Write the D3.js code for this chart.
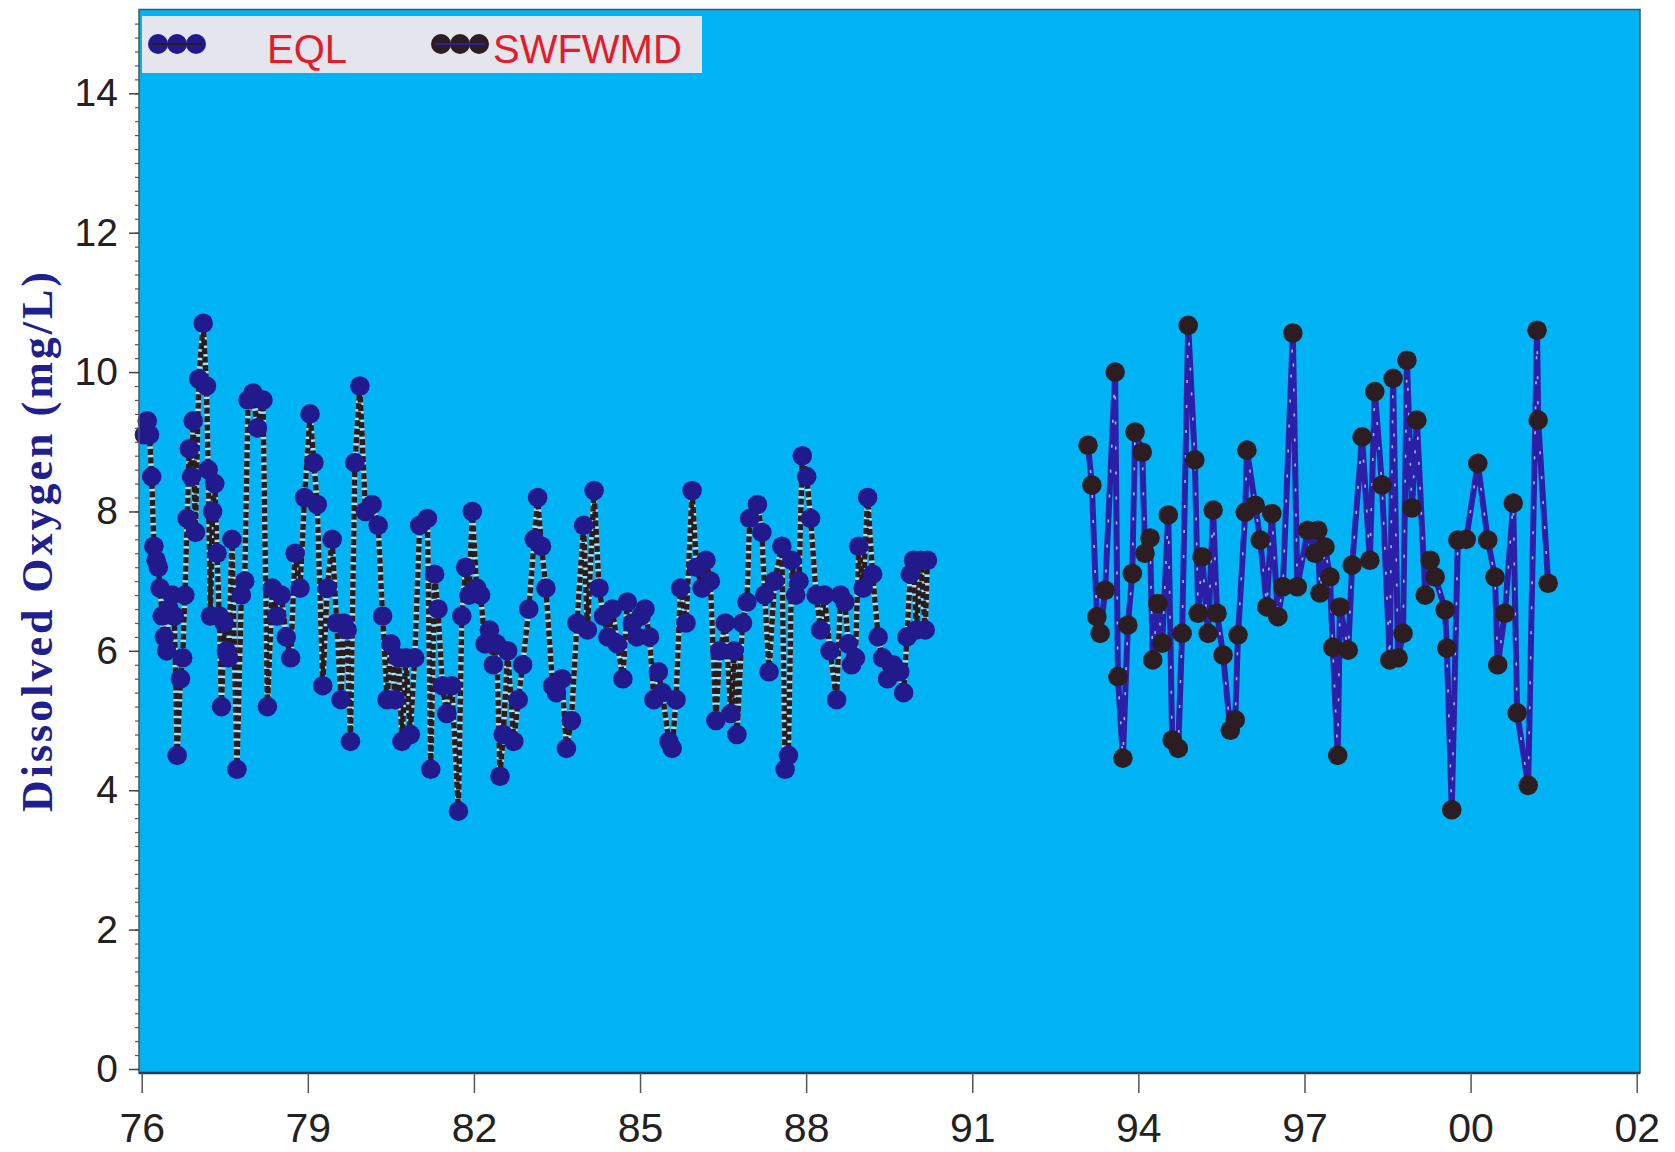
<!DOCTYPE html>
<html>
<head>
<meta charset="utf-8">
<script src="https://cdn.jsdelivr.net/npm/d3@7"></script>
<style>
  html, body { margin: 0; padding: 0; background: #ffffff; }
  svg { display: block; }
</style>
</head>
<body>
<svg id="chart" width="1675" height="1152"></svg>
<script>
// ---------------- DATA ----------------
const xTickYears  = [1976, 1979, 1982, 1985, 1988, 1991, 1994, 1997, 2000, 2003];
const xTickLabels = ["76", "79", "82", "85", "88", "91", "94", "97", "00", "02"];
const yTickValues = [0, 2, 4, 6, 8, 10, 12, 14];
const yAxisTitle  = "Dissolved Oxygen (mg/L)";
const seriesNames = ["EQL", "SWFWMD"];

const eqlYears = [
  1976.05,1976.10,1976.14,1976.18,1976.22,1976.26,1976.30,1976.33,1976.37,1976.41,
  1976.45,1976.49,1976.55,1976.59,1976.64,1976.70,1976.74,1976.78,1976.82,1976.86,
  1976.90,1976.93,1976.97,1977.03,1977.11,1977.17,1977.20,1977.24,1977.28,1977.32,
  1977.36,1977.40,1977.44,1977.49,1977.53,1977.57,1977.63,1977.72,1977.80,1977.86,
  1977.92,1978.01,1978.09,1978.19,1978.27,1978.36,1978.44,1978.52,1978.61,1978.69,
  1978.77,1978.86,1978.94,1979.04,1979.11,1979.17,1979.27,1979.35,1979.44,1979.52,
  1979.60,1979.65,1979.71,1979.77,1979.85,1979.94,1980.04,1980.16,1980.27,1980.35,
  1980.43,1980.50,1980.58,1980.64,1980.70,1980.77,1980.85,1980.93,1981.02,1981.16,
  1981.22,1981.29,1981.35,1981.43,1981.51,1981.60,1981.72,1981.78,1981.85,1981.91,
  1981.97,1982.05,1982.12,1982.20,1982.28,1982.35,1982.41,1982.47,1982.53,1982.61,
  1982.72,1982.80,1982.88,1982.99,1983.09,1983.15,1983.22,1983.30,1983.42,1983.49,
  1983.59,1983.67,1983.76,1983.86,1983.98,1984.05,1984.17,1984.26,1984.34,1984.42,
  1984.50,1984.59,1984.69,1984.77,1984.86,1984.94,1985.02,1985.09,1985.17,1985.25,
  1985.33,1985.40,1985.52,1985.58,1985.65,1985.73,1985.83,1985.94,1986.02,1986.12,
  1986.19,1986.27,1986.37,1986.44,1986.54,1986.64,1986.70,1986.75,1986.85,1986.93,
  1986.98,1987.12,1987.20,1987.25,1987.33,1987.43,1987.56,1987.62,1987.68,1987.74,
  1987.81,1987.87,1987.93,1988.01,1988.08,1988.18,1988.26,1988.33,1988.43,1988.55,
  1988.62,1988.70,1988.76,1988.82,1988.89,1988.95,1989.03,1989.11,1989.20,1989.30,
  1989.38,1989.47,1989.57,1989.69,1989.76,1989.82,1989.88,1989.94,1989.99,1990.07,
  1990.15,1990.19
];
const eqlDO = [
  9.1,9.3,9.1,8.5,7.5,7.3,7.2,6.9,6.5,6.2,
  6.0,6.6,6.8,6.5,4.5,5.6,5.9,6.8,7.9,8.9,
  8.5,9.3,7.7,9.9,10.7,9.8,8.6,6.5,8.0,8.4,
  7.4,6.5,5.2,6.4,6.0,5.9,7.6,4.3,6.8,7.0,
  9.6,9.7,9.2,9.6,5.2,6.9,6.5,6.8,6.2,5.9,
  7.4,6.9,8.2,9.4,8.7,8.1,5.5,6.9,7.6,6.4,
  5.3,6.4,6.3,4.7,8.7,9.8,8.0,8.1,7.8,6.5,
  5.3,6.1,5.3,5.9,4.7,5.9,4.8,5.9,7.8,7.9,
  4.3,7.1,6.6,5.5,5.1,5.5,3.7,6.5,7.2,6.8,
  8.0,6.9,6.8,6.1,6.3,5.8,6.1,4.2,4.8,6.0,
  4.7,5.3,5.8,6.6,7.6,8.2,7.5,6.9,5.5,5.4,
  5.6,4.6,5.0,6.4,7.8,6.3,8.3,6.9,6.5,6.2,
  6.6,6.1,5.6,6.7,6.4,6.2,6.5,6.6,6.2,5.3,
  5.7,5.4,4.7,4.6,5.3,6.9,6.4,8.3,7.2,6.9,
  7.3,7.0,5.0,6.0,6.4,5.1,6.0,4.8,6.4,6.7,
  7.9,8.1,7.7,6.8,5.7,7.0,7.5,4.3,4.5,7.3,
  6.8,7.0,8.8,8.5,7.9,6.8,6.3,6.8,6.0,5.3,
  6.8,6.7,6.1,5.8,5.9,7.5,6.9,8.2,7.1,6.2,
  5.9,5.6,5.8,5.7,5.4,6.2,7.1,7.3,6.3,7.3,
  6.3,7.3
];

const swfYears = [
  1993.09,1993.16,1993.25,1993.31,1993.40,1993.58,1993.63,1993.72,1993.81,1993.89,
  1993.94,1994.07,1994.12,1994.21,1994.26,1994.35,1994.43,1994.54,1994.61,1994.72,
  1994.79,1994.90,1995.02,1995.08,1995.15,1995.26,1995.35,1995.42,1995.53,1995.66,
  1995.75,1995.80,1995.93,1995.96,1996.11,1996.20,1996.32,1996.41,1996.52,1996.61,
  1996.79,1996.87,1997.06,1997.19,1997.24,1997.28,1997.37,1997.46,1997.51,1997.60,
  1997.64,1997.79,1997.86,1998.04,1998.18,1998.27,1998.40,1998.54,1998.60,1998.69,
  1998.78,1998.85,1998.94,1999.03,1999.18,1999.27,1999.36,1999.54,1999.57,1999.66,
  1999.77,1999.92,2000.13,2000.31,2000.44,2000.49,2000.62,2000.77,2000.84,2001.04,
  2001.20,2001.22,2001.40
];
const swfDO = [
  8.95,8.38,6.49,6.25,6.87,10.0,5.63,4.46,6.37,7.11,
  9.14,8.85,7.40,7.62,5.87,6.68,6.11,7.95,4.72,4.60,
  6.25,10.67,8.74,6.54,7.35,6.25,8.02,6.54,5.94,4.86,
  5.01,6.23,7.99,8.88,8.09,7.59,6.63,7.97,6.49,6.92,
  10.56,6.92,7.73,7.40,7.73,6.83,7.49,7.06,6.05,4.50,
  6.63,6.01,7.23,9.07,7.30,9.72,8.38,5.87,9.91,5.90,
  6.25,10.17,8.05,9.31,6.80,7.30,7.06,6.59,6.04,3.72,
  7.59,7.60,8.69,7.59,7.06,5.80,6.54,8.12,5.11,4.07,
  10.60,9.31,6.97
];

// ---------------- LAYOUT ----------------
const svg = d3.select("#chart");
const plot = { left: 139, right: 1640, top: 9.5, bottom: 1073 };

const x = d3.scaleLinear().domain([1976, 2003]).range([141.7, 1636.7]);
const y = d3.scaleLinear().domain([0, 14]).range([1069, 93.3]);

const eql = eqlYears.map((t, i) => ({ t, v: eqlDO[i] }));
const swf = swfYears.map((t, i) => ({ t, v: swfDO[i] }));

const FONT = "'Liberation Sans', Arial, Helvetica, sans-serif";

// Plot background
svg.append("rect")
  .attr("x", plot.left).attr("y", plot.top)
  .attr("width", plot.right - plot.left).attr("height", plot.bottom - plot.top)
  .attr("fill", "#00b3f5");

const line = d3.line().x(d => x(d.t)).y(d => y(d.v));

// EQL series: dark dotted line, navy markers
const gE = svg.append("g");
gE.append("path").datum(eql).attr("d", line)
  .attr("fill", "none").attr("stroke", "#9fe3ff").attr("stroke-width", 5.5)
  .attr("stroke-linejoin", "round");
gE.append("path").datum(eql).attr("d", line)
  .attr("fill", "none").attr("stroke", "#2a1c1c").attr("stroke-width", 5.5)
  .attr("stroke-dasharray", "6,2.5").attr("stroke-linejoin", "round");
gE.selectAll("circle").data(eql).join("circle")
  .attr("cx", d => x(d.t)).attr("cy", d => y(d.v)).attr("r", 9.8)
  .attr("fill", "#221a8c");

// SWFWMD series: blue dashed line, dark markers
const gS = svg.append("g");
gS.append("path").datum(swf).attr("d", line)
  .attr("fill", "none").attr("stroke", "#2a1fa6").attr("stroke-width", 6)
  .attr("stroke-linejoin", "round");
gS.append("path").datum(swf).attr("d", line)
  .attr("fill", "none").attr("stroke", "#a6dcff").attr("stroke-width", 1.6)
  .attr("stroke-dasharray", "3,22").attr("stroke-opacity", 0.85);
gS.selectAll("circle").data(swf).join("circle")
  .attr("cx", d => x(d.t)).attr("cy", d => y(d.v)).attr("r", 9.8)
  .attr("fill", "#2b1d22");

// Plot frame
svg.append("rect")
  .attr("x", plot.left).attr("y", plot.top)
  .attr("width", plot.right - plot.left).attr("height", plot.bottom - plot.top)
  .attr("fill", "none").attr("stroke", "#4a5560").attr("stroke-width", 1.5);
svg.append("line")
  .attr("x1", plot.left).attr("x2", plot.right)
  .attr("y1", plot.bottom).attr("y2", plot.bottom)
  .attr("stroke", "#2c3a55").attr("stroke-width", 2.5);

// Legend
const lg = svg.append("g");
lg.append("rect").attr("x", 142).attr("y", 16).attr("width", 560).attr("height", 57)
  .attr("fill", "#e5e5ee");
const legendItems = [
  { name: seriesNames[0], cx: [158, 177, 196], dot: "#221a8c", ln: "#2a1c1c", tx: 267 },
  { name: seriesNames[1], cx: [441, 460, 479], dot: "#2b1d22", ln: "#2a1fa6", tx: 493 }
];
legendItems.forEach(it => {
  lg.selectAll(null).data(it.cx).join("circle")
    .attr("cx", d => d).attr("cy", 44).attr("r", 10).attr("fill", it.dot);
  lg.append("line").attr("x1", it.cx[0] - 6).attr("x2", it.cx[2] + 6)
    .attr("y1", 44).attr("y2", 44).attr("stroke", it.ln).attr("stroke-width", 2);
  lg.append("text").attr("x", it.tx).attr("y", 63)
    .attr("font-family", FONT).attr("font-size", 40).attr("fill", "#e31b2b")
    .text(it.name);
});

// Y axis: minor ticks
const yMinor = d3.range(0, 76).map(i => i * 0.2);
svg.append("g").attr("transform", `translate(${plot.left},0)`)
  .call(d3.axisLeft(y).tickValues(yMinor).tickSize(4).tickFormat(""))
  .call(g => g.select(".domain").remove())
  .call(g => g.selectAll("line").attr("stroke", "#555").attr("stroke-width", 1.2));

// Y axis: major ticks + labels
svg.append("g").attr("transform", `translate(${plot.left},0)`)
  .call(d3.axisLeft(y).tickValues(yTickValues).tickSize(10).tickPadding(11).tickFormat(d => d))
  .call(g => g.select(".domain").remove())
  .call(g => g.selectAll("line").attr("stroke", "#444").attr("stroke-width", 1.5))
  .call(g => g.selectAll("text").attr("font-family", FONT).attr("font-size", 39)
    .attr("fill", "#222"));

// X axis
svg.append("g").attr("transform", `translate(0,${plot.bottom})`)
  .call(d3.axisBottom(x).tickValues(xTickYears).tickSize(20).tickPadding(20)
    .tickFormat((d, i) => xTickLabels[i]))
  .call(g => g.select(".domain").remove())
  .call(g => g.selectAll("line").attr("stroke", "#555").attr("stroke-width", 1.5))
  .call(g => g.selectAll("text").attr("font-family", FONT).attr("font-size", 41)
    .attr("fill", "#222"));

// Y axis title
svg.append("text")
  .attr("transform", "translate(52,542) rotate(-90)")
  .attr("text-anchor", "middle")
  .attr("font-family", "'Liberation Serif', 'Times New Roman', serif")
  .attr("font-weight", "bold").attr("font-size", 44)
  .attr("fill", "#1f1f8f")
  .attr("textLength", 540).attr("lengthAdjust", "spacing")
  .text(yAxisTitle);
</script>
</body>
</html>
